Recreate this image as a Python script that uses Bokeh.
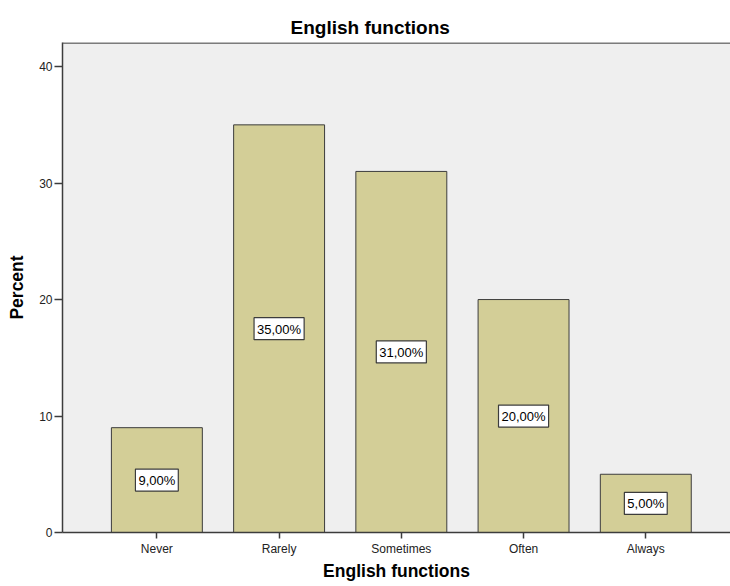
from bokeh.plotting import figure
from bokeh.models import ColumnDataSource, FixedTicker, Range1d, Span, Title
from bokeh.core.properties import value
from bokeh.embed import file_html
from bokeh.resources import INLINE

# Survey responses: how often English functions are used
categories = ["Never", "Rarely", "Sometimes", "Often", "Always"]
percents = [9.0, 35.0, 31.0, 20.0, 5.0]
y_ticks = [0, 10, 20, 30, 40]

FONT = "Liberation Sans"
AXIS_COLOR = "#3c3c3c"

positions = list(range(len(categories)))
labels = [f"{v:.2f}".replace(".", ",") + "%" for v in percents]

source = ColumnDataSource(dict(
    x=positions,
    top=percents,
    mid=[v / 2 for v in percents],
    label=labels,
))

y_end = 42.07

p = figure(
    width=730, height=586,
    x_range=Range1d(-0.772, 4.693),
    y_range=Range1d(0, y_end),
    output_backend="svg", toolbar_location=None,
    title="English functions",
    min_border_left=62, min_border_right=0,
    min_border_top=42, min_border_bottom=54,
)

p.background_fill_color = "#efefef"
p.border_fill_color = "white"
p.outline_line_color = None
p.grid.visible = False

p.title.text_font = FONT
p.title.text_font_size = "19px"
p.title.text_font_style = "bold"
p.title.text_color = "black"
p.title.align = "left"
p.title.offset = 228

p.vbar(x="x", top="top", bottom=0, width=0.744, source=source,
       fill_color="#d3ce97", line_color=AXIS_COLOR, line_width=1)

p.text(x="x", y="mid", text="label", source=source,
       text_font=value(FONT), text_font_size="13px", text_color="black",
       text_align="center", text_baseline="middle",
       background_fill_color="white", border_line_color=AXIS_COLOR,
       border_line_width=1.2, padding=[3, 3, 4, 3])

# top edge of the plotting frame
p.add_layout(Span(location=y_end - 0.04, dimension="width",
                  line_color="#555555", line_width=1.5))

xa = p.xaxis[0]
xa.ticker = FixedTicker(ticks=positions)
xa.major_label_overrides = {i: c for i, c in zip(positions, categories)}

ya = p.yaxis[0]
ya.ticker = FixedTicker(ticks=y_ticks)
ya.axis_label = "Percent"

for ax in (xa, ya):
    ax.axis_line_color = AXIS_COLOR
    ax.axis_line_width = 1.5
    ax.major_tick_line_color = AXIS_COLOR
    ax.major_tick_line_width = 1.5
    ax.major_tick_in = 0
    ax.minor_tick_line_color = None
    ax.major_label_text_font = FONT
    ax.major_label_text_font_size = "12px"
    ax.major_label_text_color = "#222222"
    ax.axis_label_text_font = FONT
    ax.axis_label_text_font_size = "17.5px"
    ax.axis_label_text_font_style = "bold"
    ax.axis_label_text_color = "black"

xa.major_tick_out = 6
xa.major_label_standoff = 3
ya.major_tick_out = 8
ya.major_label_standoff = 2
ya.axis_label_standoff = 9

# x-axis title, stacked below the tick labels
p.add_layout(Title(
    text="English functions", align="center", standoff=0,
    vertical_align="bottom", text_line_height=1.8,
    text_font=FONT, text_font_size="17.5px",
    text_font_style="bold", text_color="black",
), "below")

open("out.html", "w").write(file_html(p, INLINE))
